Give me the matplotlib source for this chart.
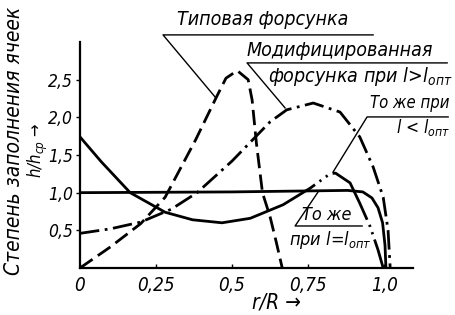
import matplotlib
matplotlib.use("Agg")
import matplotlib.pyplot as plt

# Типовая форсунка (штриховая)
r_typ = [0, 0.1, 0.2, 0.28, 0.38, 0.45, 0.48, 0.517, 0.553, 0.566, 0.58, 0.6, 0.625, 0.645, 0.665]
h_typ = [0, 0.28, 0.59, 0.94, 1.70, 2.28, 2.52, 2.62, 2.5, 2.23, 1.66, 1.0, 0.68, 0.35, 0]

# Модифицированная форсунка при l > l_опт (штрихпунктир)
r_mod = [0, 0.1, 0.2, 0.3, 0.385, 0.5, 0.625, 0.68, 0.767, 0.855, 0.92, 0.964, 0.997, 1.013, 1.02]
h_mod = [0.46, 0.52, 0.61, 0.78, 1.0, 1.42, 1.94, 2.1, 2.19, 2.07, 1.74, 1.34, 0.94, 0.5, 0]

# То же при l < l_опт
r_less = [0, 0.07, 0.165, 0.28, 0.37, 0.467, 0.56, 0.668, 0.757, 0.822, 0.84, 0.888, 0.92, 0.954, 0.98, 0.997]
h_less = [1.74, 1.41, 1.0, 0.74, 0.64, 0.6, 0.66, 0.84, 1.06, 1.25, 1.26, 1.13, 0.86, 0.55, 0.24, 0]

# То же при l = l_опт
r_opt = [0, 0.5, 0.88, 0.93, 0.96, 0.98, 0.995, 1.003, 1.006]
h_opt = [1.0, 1.01, 1.03, 1.01, 0.93, 0.8, 0.6, 0.3, 0]

xticks = [0, 0.25, 0.5, 0.75, 1.0]
xlabels = ["0", "0,25", "0,5", "0,75", "1,0"]
yticks = [0.5, 1.0, 1.5, 2.0, 2.5]
ylabels = ["0,5", "1,0", "1,5", "2,0", "2,5"]

plt.rcParams['font.family'] = ['DejaVu Sans']
plt.rcParams['font.style'] = 'italic'
plt.rcParams['font.stretch'] = 'condensed'
plt.rcParams['mathtext.fontset'] = 'custom'
plt.rcParams['mathtext.rm'] = 'DejaVu Sans:style=italic:stretch=condensed'
plt.rcParams['mathtext.it'] = 'DejaVu Sans:style=italic:stretch=condensed'
plt.rcParams['mathtext.default'] = 'regular'

fig = plt.figure(figsize=(4.56, 3.15), dpi=100)
ax = fig.add_axes([80/456, 47/315, 333/456, 226/315])

lw = 2.0
ax.plot(r_typ, h_typ, color='k', lw=lw, linestyle=(0, (5.5, 2.3)))
ax.plot(r_mod, h_mod, color='k', lw=lw, linestyle=(0, (7, 2, 1, 2)))
ax.plot(r_less, h_less, color='k', lw=lw,
        linestyle=(0, (99, 2, 0.8, 2, 0.8, 2, 22, 2, 0.8, 2, 0.8, 2, 100, 1)))
ax.plot(r_opt, h_opt, color='k', lw=lw)

ax.set_xlim(0, 1.095)
ax.set_ylim(0, 3.0)
ax.spines['top'].set_visible(False)
ax.spines['right'].set_visible(False)
ax.spines['left'].set_linewidth(1.6)
ax.spines['bottom'].set_linewidth(1.6)
ax.set_xticks(xticks)
ax.set_xticklabels(xlabels)
ax.set_yticks(yticks)
ax.set_yticklabels(ylabels)
ax.tick_params(axis='both', labelsize=13.5, length=3, width=1)
ax.tick_params(axis='x', direction='in', pad=6)
ax.tick_params(axis='y', pad=2, labelsize=12.5)

# подписи осей
fig.text(14/456, 1 - 141/315, "Степень заполнения ячеек", rotation=90, fontsize=15,
         ha='center', va='center')
fig.text(38/456, 1 - 150/315, "h/h$_{cp}$ \u2192", rotation=90, fontsize=12,
         ha='center', va='center')
fig.text(276/456, 1 - 303/315, "r/R \u2192", fontsize=15, ha='center', va='center')


# надписи и выноски (в пикселях изображения)
def px(x, y):
    return ((x - 80) / 304, (268 - y) / 75.3)


def leader(x0, x1, yline, target):
    tx, ty = px(*target)
    ax.plot([px(x1, yline)[0], px(x0, yline)[0], tx],
            [px(x1, yline)[1], px(x0, yline)[1], ty],
            color='k', lw=1.0, clip_on=False)


ax.text(*px(263, 20), "Типовая форсунка", fontsize=14, ha='center', va='center')
leader(163, 373, 35, (215, 97))
ax.text(*px(340, 51), "Модифицированная", fontsize=14, ha='center', va='center')
leader(247, 447, 63, (285, 108))
ax.text(*px(452, 77), "форсунка при l>l$_{опт}$", fontsize=14, ha='right', va='center')
ax.text(*px(449, 103), "То же при", fontsize=12, ha='right', va='center')
leader(367, 448, 117, (333, 172))
ax.text(*px(450, 128), "l < l$_{опт}$", fontsize=12.5, ha='right', va='center')
ax.text(*px(327, 215), "То же", fontsize=13, ha='center', va='center')
leader(295, 362, 226, (318, 192))
ax.text(*px(330, 240), "при l=l$_{опт}$", fontsize=13, ha='center', va='center')

fig.savefig("out.png", dpi=100)
